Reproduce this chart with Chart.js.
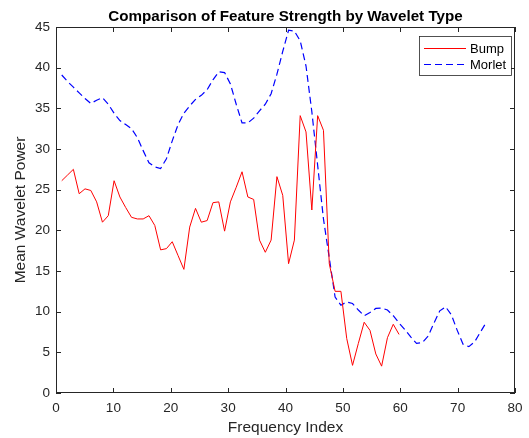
<!DOCTYPE html>
<html><head><meta charset="utf-8">
<script src="https://cdn.jsdelivr.net/npm/chart.js@4.4.1/dist/chart.umd.min.js"></script>
<style>html,body{margin:0;padding:0;background:#fff;overflow:hidden}#wrap{width:529px;height:438px}</style>
</head><body><div id="wrap"><canvas id="c" width="529" height="438"></canvas></div>
<script>
const chartTitle = 'Comparison of Feature Strength by Wavelet Type';
const xAxisTitle = 'Frequency Index';
const yAxisTitle = 'Mean Wavelet Power';
const seriesNames = ['Bump', 'Morlet'];
const xTickValues = [0, 10, 20, 30, 40, 50, 60, 70, 80];
const yTickValues = [0, 5, 10, 15, 20, 25, 30, 35, 40, 45];

// Mean wavelet power per sample
const bump = [26.1, 26.8, 27.5, 24.5, 25.1, 24.9, 23.5, 21.0, 21.8, 26.1,
  24.1, 22.8, 21.6, 21.4, 21.4, 21.8, 20.6, 17.6, 17.75, 18.6,
  16.9, 15.2, 20.4, 22.7, 21.0, 21.2, 23.4, 23.5, 19.9, 23.5,
  25.3, 27.2, 24.1, 23.8, 18.8, 17.3, 18.8, 26.6, 24.3, 15.9,
  18.8, 34.1, 32.1, 22.5, 34.1, 32.3, 15.9, 12.5, 12.5, 6.7,
  3.4, 6.1, 8.7, 7.7, 4.8, 3.3, 6.8, 8.45, 7.2];
const morlet = [39.1, 38.3, 37.6, 36.9, 36.2, 35.6, 36.0, 36.3, 35.5, 34.4,
  33.5, 33.0, 32.5, 31.4, 29.8, 28.3, 27.8, 27.6, 28.8, 31.0,
  33.0, 34.4, 35.3, 36.1, 36.6, 37.3, 38.5, 39.5, 39.4, 38.0,
  35.5, 33.2, 33.2, 33.8, 34.7, 35.5, 36.8, 39.2, 42.0, 44.6,
  44.5, 43.3, 40.2, 34.6, 28.0, 21.4, 16.6, 11.8, 10.8, 11.2,
  11.0, 10.2, 9.5, 9.9, 10.4, 10.45, 10.2, 9.5, 8.6, 7.8,
  6.9, 6.1, 6.2, 7.0, 8.6, 10.1, 10.6, 9.6, 7.7, 6.0,
  5.7, 6.3, 7.5, 8.7];
// frequency index of each sample: evenly spaced from first to last
const xFirst = 1, xLast = 75;
const freqIndex = morlet.map((_, i) => xFirst + i * (xLast - xFirst) / (morlet.length - 1));

const AX = '#262626';
const FONT = "'Liberation Sans', Arial, Helvetica, sans-serif";

const decor = {
  id: 'decor',
  afterDatasetsDraw(chart) {
    const ctx = chart.ctx, a = chart.chartArea;
    const xs = chart.scales.x, ys = chart.scales.y;
    ctx.save();
    ctx.strokeStyle = AX; ctx.lineWidth = 1;
    // inward ticks on all four sides
    const tl = 5;
    ctx.beginPath();
    xTickValues.forEach(v => {
      const p = Math.round(xs.getPixelForValue(v)) + 0.5;
      ctx.moveTo(p, a.bottom); ctx.lineTo(p, a.bottom - tl);
      ctx.moveTo(p, a.top); ctx.lineTo(p, a.top + tl);
    });
    yTickValues.forEach(v => {
      const p = Math.round(ys.getPixelForValue(v)) + 0.5;
      ctx.moveTo(a.left, p); ctx.lineTo(a.left + tl, p);
      ctx.moveTo(a.right, p); ctx.lineTo(a.right - tl, p);
    });
    ctx.stroke();
    // box
    ctx.strokeRect(Math.round(a.left) + 0.5, Math.round(a.top) + 0.5,
      Math.round(a.right - a.left) - 1, Math.round(a.bottom - a.top) - 1);
    // title
    ctx.fillStyle = '#000';
    ctx.font = "bold 15.2px " + FONT;
    ctx.textAlign = 'center'; ctx.textBaseline = 'alphabetic';
    ctx.fillText(chartTitle, (a.left + a.right) / 2, 20.5);
    // legend
    const bw = 92, bh = 39;
    const bx = a.right - 4 - bw, by = a.top + 9;
    ctx.fillStyle = '#fff';
    ctx.fillRect(bx, by, bw, bh);
    ctx.strokeStyle = AX; ctx.lineWidth = 0.8;
    ctx.strokeRect(bx + 0.5, by + 0.5, bw, bh);
    ctx.font = "13px " + FONT;
    ctx.textAlign = 'left'; ctx.textBaseline = 'middle';
    chart.data.datasets.forEach((ds, i) => {
      const yy = by + 12.5 + i * 16;
      ctx.strokeStyle = ds.borderColor; ctx.lineWidth = ds.borderWidth;
      ctx.setLineDash(ds.borderDash || []);
      ctx.beginPath(); ctx.moveTo(bx + 5, yy); ctx.lineTo(bx + 47, yy); ctx.stroke();
      ctx.setLineDash([]);
      ctx.fillStyle = '#000';
      ctx.fillText(ds.label, bx + 51, yy + 0.5);
    });
    ctx.restore();
  }
};

new Chart(document.getElementById('c'), {
  type: 'line',
  data: {
    datasets: [
      { label: seriesNames[0], data: bump.map((v, i) => ({ x: freqIndex[i], y: v })),
        borderColor: '#ff0000', borderWidth: 1, pointRadius: 0, tension: 0, fill: false },
      { label: seriesNames[1], data: morlet.map((v, i) => ({ x: freqIndex[i], y: v })),
        borderColor: '#0000ff', borderWidth: 1.2, borderDash: [7, 4], pointRadius: 0, tension: 0, fill: false }
    ]
  },
  options: {
    responsive: false, animation: false, devicePixelRatio: 1,
    layout: { padding: { top: 27, right: 14, left: 0, bottom: 0 } },
    plugins: { legend: { display: false }, title: { display: false }, tooltip: { enabled: false } },
    scales: {
      x: {
        type: 'linear', min: 0, max: 80,
        afterBuildTicks: s => { s.ticks = xTickValues.map(v => ({ value: v })); },
        afterFit: s => { s.height = 45; s.paddingLeft = 0; s.paddingRight = 0; },
        grid: { display: false, drawTicks: false }, border: { display: false },
        ticks: { padding: 7, color: AX, maxRotation: 0, autoSkip: false, font: { family: FONT, size: 13.5 } },
        title: { display: true, text: xAxisTitle, color: AX, font: { family: FONT, size: 15.5 }, padding: { top: 0, bottom: 1 } }
      },
      y: {
        type: 'linear', min: 0, max: 45,
        afterBuildTicks: s => { s.ticks = yTickValues.map(v => ({ value: v })); },
        afterFit: s => { s.width = 56; s.paddingTop = 0; s.paddingBottom = 0; },
        grid: { display: false, drawTicks: false }, border: { display: false },
        ticks: { padding: 6, color: AX, autoSkip: false, font: { family: FONT, size: 13.5 } },
        title: { display: true, text: yAxisTitle, color: AX, font: { family: FONT, size: 15.5 }, padding: { top: 11, bottom: 0 } }
      }
    }
  },
  plugins: [decor]
});
</script>
</body></html>
